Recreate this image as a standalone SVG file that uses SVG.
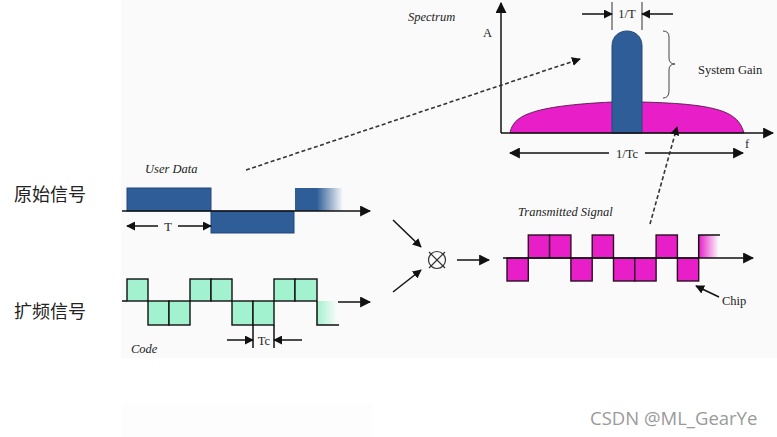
<svg xmlns="http://www.w3.org/2000/svg" width="777" height="437" viewBox="0 0 777 437">
<style>
.ln{stroke:#111;stroke-width:1.5;fill:none}
.dash{stroke:#333;stroke-width:1.6;fill:none;stroke-dasharray:4 2.5}
.it{font-family:"Liberation Serif",serif;font-style:italic;font-size:12.5px;fill:#222}
.lb{font-family:"Liberation Serif",serif;font-size:12.5px;fill:#222}
.cn{font-family:"Noto Sans CJK SC",sans-serif;font-size:18px;fill:#222}
.blue{fill:#2f5d98;stroke:#24477a;stroke-width:1}
.chipG{fill:#a2f2cf;stroke:#111;stroke-width:1.4}
.chipM{fill:#e81ec8;stroke:#2a1020;stroke-width:1.4}
</style>
<defs>
<marker id="ah" viewBox="0 0 10 10" refX="9" refY="5" markerWidth="9" markerHeight="9" markerUnits="userSpaceOnUse" orient="auto"><path d="M0,0 L10,5 L0,10 Z" fill="#111"/></marker>
<marker id="ahL" viewBox="0 0 10 10" refX="9" refY="5" markerWidth="11" markerHeight="11" markerUnits="userSpaceOnUse" orient="auto"><path d="M0,0 L10,5 L0,10 Z" fill="#111"/></marker>
<linearGradient id="fadeB" x1="0" y1="0" x2="1" y2="0"><stop offset="0" stop-color="#2f5d98"/><stop offset="0.45" stop-color="#2f5d98"/><stop offset="1" stop-color="#2f5d98" stop-opacity="0"/></linearGradient>
<linearGradient id="fadeG" x1="0" y1="0" x2="1" y2="0"><stop offset="0" stop-color="#a2f2cf"/><stop offset="1" stop-color="#a2f2cf" stop-opacity="0"/></linearGradient>
<linearGradient id="fadeM" x1="0" y1="0" x2="1" y2="0"><stop offset="0" stop-color="#e81ec8"/><stop offset="1" stop-color="#e81ec8" stop-opacity="0"/></linearGradient>
</defs>
<rect width="777" height="437" fill="#ffffff"/>
<rect x="121" y="0" width="656" height="358" fill="#fafafa"/>
<rect x="122" y="403" width="250" height="34" fill="#fdfdfd"/>

<g id="labels-cn">
<text class="cn" x="14" y="201">原始信号</text>
<text class="cn" x="14" y="318">扩频信号</text>
</g>

<g id="user-data">
<text class="it" x="145" y="173">User Data</text>
<rect class="blue" x="127" y="188" width="84" height="23"/>
<rect class="blue" x="211" y="211" width="83" height="22"/>
<rect x="295" y="188" width="48" height="23" fill="url(#fadeB)"/>
<line class="ln" x1="122" y1="211" x2="370" y2="211" marker-end="url(#ahL)"/>
<line class="ln" x1="158" y1="226" x2="127" y2="226" marker-end="url(#ah)"/>
<line class="ln" x1="178" y1="226" x2="211" y2="226" marker-end="url(#ah)"/>
<text class="lb" x="168" y="231" text-anchor="middle">T</text>
</g>

<g id="code">
<rect class="chipG" x="127" y="279" width="21" height="22"/>
<rect class="chipG" x="148" y="301" width="21" height="24"/>
<rect class="chipG" x="169" y="301" width="21" height="24"/>
<rect class="chipG" x="190" y="279" width="21" height="22"/>
<rect class="chipG" x="211" y="279" width="21" height="22"/>
<rect class="chipG" x="232" y="301" width="21" height="24"/>
<rect class="chipG" x="253" y="301" width="21" height="24"/>
<rect class="chipG" x="274" y="279" width="21" height="22"/>
<rect class="chipG" x="295" y="279" width="22" height="22"/>
<rect x="317" y="301" width="20" height="24" fill="url(#fadeG)"/>
<path class="ln" d="M122,301 H127 M317,301 V325 H339"/>
<line class="ln" x1="338" y1="302" x2="370" y2="302" marker-end="url(#ahL)"/>
<path class="ln" d="M253,325 V348 M274,325 V348"/>
<line class="ln" x1="227" y1="340" x2="253" y2="340" marker-end="url(#ah)"/>
<line class="ln" x1="302" y1="340" x2="274" y2="340" marker-end="url(#ah)"/>
<text class="lb" x="264" y="345" text-anchor="middle">Tc</text>
<text class="it" x="131" y="353">Code</text>
</g>

<g id="mixer">
<circle cx="437" cy="260" r="8.5" fill="none" stroke="#333" stroke-width="1.2"/>
<path d="M429,252 L445,268 M445,252 L429,268" stroke="#333" stroke-width="1.2"/>
</g>

<g id="transmitted">
<text class="it" x="518" y="216">Transmitted Signal</text>
<rect class="chipM" x="507" y="258" width="21.3" height="23"/>
<rect class="chipM" x="528.3" y="235" width="21.3" height="23"/>
<rect class="chipM" x="549.6" y="235" width="21.3" height="23"/>
<rect class="chipM" x="570.9" y="258" width="21.3" height="23"/>
<rect class="chipM" x="592.2" y="235" width="21.3" height="23"/>
<rect class="chipM" x="613.5" y="258" width="21.3" height="23"/>
<rect class="chipM" x="634.8" y="258" width="21.3" height="23"/>
<rect class="chipM" x="656.1" y="235" width="21.3" height="23"/>
<rect class="chipM" x="677.4" y="258" width="21.3" height="23"/>
<rect x="698.7" y="235" width="20" height="23" fill="url(#fadeM)"/>
<path class="ln" d="M698.7,258 V235 H720"/>
<line class="ln" x1="503" y1="258" x2="753" y2="258" marker-end="url(#ahL)"/>
<line class="ln" x1="719" y1="297" x2="696" y2="286" marker-end="url(#ah)"/>
<text class="lb" x="722" y="305">Chip</text>
</g>

<g id="spectrum">
<text class="it" x="408" y="21">Spectrum</text>
<text class="lb" x="483" y="37">A</text>
<path d="M510,133 C513,116 530,106 612,102 L642,102 C720,104 738,112 744,133 Z" fill="#e81ec8" stroke="#3a1030" stroke-width="0.8"/>
<path class="blue" d="M612,133 V46 C612,26 642,26 642,46 V133 Z"/>
<line class="ln" x1="501" y1="133" x2="501" y2="3" marker-end="url(#ahL)"/>
<line class="ln" x1="501" y1="133" x2="773" y2="133" marker-end="url(#ahL)"/>
<text class="lb" x="745" y="148">f</text>
<path d="M612,2 V30 M642,2 V30" stroke="#555" stroke-width="1.2"/>
<line class="ln" x1="582" y1="14" x2="612" y2="14" marker-end="url(#ah)"/>
<line class="ln" x1="673" y1="14" x2="642" y2="14" marker-end="url(#ah)"/>
<text class="lb" x="627" y="18" text-anchor="middle">1/T</text>
<path d="M663,31 Q669,31 669,37 V58 Q669,64 675,64 Q669,64 669,70 V91 Q669,98 663,98" fill="none" stroke="#444" stroke-width="1"/>
<text class="lb" x="698" y="74">System Gain</text>
<line class="ln" x1="609" y1="153" x2="510" y2="153" marker-end="url(#ahL)"/>
<line class="ln" x1="645" y1="153" x2="743" y2="153" marker-end="url(#ahL)"/>
<text class="lb" x="627" y="158" text-anchor="middle">1/Tc</text>
</g>

<g id="connectors">
<line class="dash" x1="246" y1="170" x2="580" y2="59" marker-end="url(#ah)"/>
<line class="dash" x1="650" y1="224" x2="677" y2="127" marker-end="url(#ah)"/>
<line class="ln" x1="393" y1="220" x2="421" y2="247" marker-end="url(#ah)"/>
<line class="ln" x1="393" y1="292" x2="421" y2="270" marker-end="url(#ah)"/>
<line class="ln" x1="457" y1="260" x2="489" y2="260" marker-end="url(#ahL)"/>
</g>

<text x="590" y="425" font-family="'Open Sans','Noto Sans',sans-serif" font-size="18.5" fill="#9a9a9a">CSDN @ML_GearYe</text>
</svg>
